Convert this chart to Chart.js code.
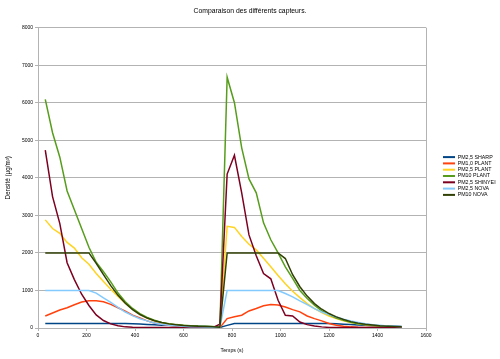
<!DOCTYPE html>
<html><head><meta charset="utf-8">
<script src="https://cdn.jsdelivr.net/npm/chart.js@4/dist/chart.umd.min.js"></script>
<style>html,body{margin:0;padding:0;background:#fff;overflow:hidden}</style>
</head><body>
<canvas id="c" width="500" height="359"></canvas>
<script>
const times = [30,60,90,120,150,180,210,240,270,300,330,360,390,420,450,480,510,540,570,600,630,660,690,720,750,780,810,840,870,900,930,960,990,1020,1050,1080,1110,1140,1170,1200,1230,1260,1290,1320,1350,1380,1410,1440,1470,1500];

const pm25Sharp = [120,120,120,120,120,120,120,120,120,120,120,120,115,105,95,85,75,70,62,55,50,45,40,35,15,70,120,120,120,120,120,120,120,120,120,120,120,120,120,120,110,100,90,80,70,60,55,50,45,40];
const pm10Plant1 = [320,400,480,540,620,690,725,725,700,630,540,450,340,270,190,135,100,75,55,40,30,25,20,15,10,250,300,340,455,520,590,625,610,560,490,430,320,250,190,120,75,45,30,20,15,10,10,8,5,5];
const pm25Plant = [2880,2650,2520,2280,2130,1870,1700,1450,1240,1030,840,660,500,370,265,190,140,105,80,60,45,35,30,25,15,2710,2680,2440,2230,2080,1860,1630,1400,1180,980,810,650,515,410,320,250,190,145,110,85,65,50,40,30,25];
const pm10Plant = [6090,5200,4550,3650,3150,2650,2150,1750,1500,1230,930,700,520,385,280,205,150,115,90,75,60,50,45,40,20,6680,6000,4800,3970,3600,2800,2350,2000,1630,1320,1000,785,605,455,356,267,205,150,115,90,70,55,45,35,30];
const pm25Shinyei = [4740,3500,2780,1740,1290,900,600,350,200,110,60,30,20,15,10,10,10,10,10,10,10,10,10,10,100,4100,4600,3600,2480,1925,1450,1310,740,340,320,160,90,55,30,15,10,10,10,10,10,10,10,10,10,10];
const pm25Nova = [1000,1000,1000,1000,1000,1000,1000,930,800,680,550,425,330,245,190,135,100,75,60,45,35,30,25,20,10,1000,1000,1000,1000,1000,1000,1000,1000,918,829,722,624,517,428,356,294,232,187,150,115,90,70,55,45,35];
const pm10Nova = [2000,2000,2000,2000,2000,2000,2000,1720,1420,1130,870,660,490,360,265,195,145,110,85,65,55,45,40,35,20,2000,2000,2000,2000,2000,2000,2000,2000,1850,1420,1100,850,650,500,385,295,225,170,130,100,78,60,48,38,30];

const seriesNames = ['PM2,5 SHARP','PM1,0 PLANT','PM2,5 PLANT','PM10 PLANT','PM2,5 SHINYEI','PM2,5 NOVA','PM10 NOVA'];
const seriesValues = [pm25Sharp,pm10Plant1,pm25Plant,pm10Plant,pm25Shinyei,pm25Nova,pm10Nova];
const seriesColors = ['#004586','#ff420e','#ffd320','#579d1c','#7e0021','#83caff','#314004'];

const F = '"Liberation Sans", Arial, sans-serif';
const GRID = '#b3b3b3';

const datasets = seriesNames.map((name,i)=>({
  label: name,
  data: times.map((t,j)=>({x:t,y:seriesValues[i][j]})),
  borderColor: seriesColors[i],
  backgroundColor: seriesColors[i],
  borderWidth: 1.5,
  pointRadius: 0,
  tension: 0,
  order: -i
}));

new Chart(document.getElementById('c'), {
  type: 'line',
  data: { datasets },
  options: {
    responsive: false,
    animation: false,
    devicePixelRatio: 1,
    layout: { padding: { left: 0, right: 0, top: 0, bottom: 7 } },
    plugins: {
      title: {
        display: true,
        text: 'Comparaison des différents capteurs.',
        color: '#000',
        font: { family: F, size: 6.8, weight: 'normal' },
        padding: { top: 7.5, bottom: 12 }
      },
      legend: {
        position: 'right',
        align: 'center',
        maxWidth: 58,
        labels: {
          boxWidth: 12,
          boxHeight: 2,
          padding: 1,
          color: '#000',
          font: { family: F, size: 5.3 },
          sort: (a,b) => a.datasetIndex - b.datasetIndex,
          generateLabels: (chart) => Chart.defaults.plugins.legend.labels.generateLabels(chart).map(l => Object.assign(l, { lineWidth: 0 }))
        }
      },
      tooltip: { enabled: false }
    },
    scales: {
      x: {
        type: 'linear',
        min: 0, max: 1600,
        afterFit: (s) => { s.height = 24; },
        ticks: { stepSize: 200, color: '#000', font: { family: F, size: 5 }, padding: 1.3, maxRotation: 0, callback: (v) => String(v) },
        grid: {
          color: (ctx) => (ctx.tick && ctx.tick.value === 1600) ? GRID : 'rgba(0,0,0,0)',
          tickColor: GRID,
          tickLength: 3
        },
        border: { color: GRID },
        title: { display: true, text: 'Temps (s)', color: '#000', font: { family: F, size: 5.2 }, padding: { top: 0, bottom: -1.6 } }
      },
      y: {
        min: 0, max: 8000,
        afterFit: (s) => { s.width = 38; },
        ticks: { stepSize: 1000, color: '#000', font: { family: F, size: 5 }, padding: 2, callback: (v) => String(v) },
        grid: { color: GRID, tickColor: GRID, tickLength: 3 },
        border: { color: GRID },
        title: { display: true, text: 'Densité (µg/m³)', color: '#000', font: { family: F, size: 6.3 }, padding: { top: 4.5, bottom: 0 } }
      },
      y2: {
        position: 'right',
        display: true,
        grid: { display: false },
        ticks: { display: false },
        border: { display: false },
        afterFit: (s) => { s.width = 16; }
      }
    }
  }
});
</script>
</body></html>
